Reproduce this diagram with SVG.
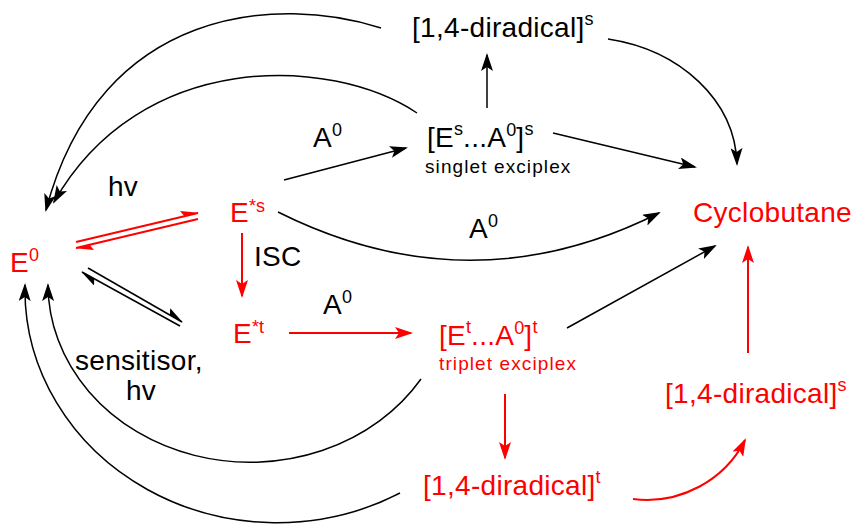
<svg xmlns="http://www.w3.org/2000/svg" width="862" height="525" viewBox="0 0 862 525">
<style>
text{font-family:"Liberation Sans",Arial,sans-serif;}
.big{font-size:28px;letter-spacing:0.3px;}
.sup{font-size:18px;letter-spacing:0;}
.small{font-size:19px;letter-spacing:1.1px;}
.k{fill:#000;}
.r{fill:#ff0000;}
.lk{fill:none;stroke:#000;stroke-width:1.5;}
.lr{fill:none;stroke:#ff0000;stroke-width:2;}
</style>
<defs>
<marker id="ak" viewBox="0 0 18 12" refX="16" refY="6" markerWidth="18" markerHeight="12" markerUnits="userSpaceOnUse" orient="auto"><path d="M0,0 L18,6 L0,12 L4,6 z" fill="#000"/></marker>
<marker id="ar" viewBox="0 0 18 12" refX="16" refY="6" markerWidth="18" markerHeight="12" markerUnits="userSpaceOnUse" orient="auto"><path d="M0,0 L18,6 L0,12 L4,6 z" fill="#ff0000"/></marker>
<marker id="hk" viewBox="0 0 18 12" refX="17" refY="6" markerWidth="18" markerHeight="12" markerUnits="userSpaceOnUse" orient="auto"><path d="M18,6 L0,0 L3,6 z" fill="#000"/></marker>
<marker id="hr" viewBox="0 0 18 12" refX="17" refY="6" markerWidth="18" markerHeight="12" markerUnits="userSpaceOnUse" orient="auto"><path d="M18,6 L0,0 L3,6 z" fill="#ff0000"/></marker>
</defs>

<g id="connectors">
<path class="lk" d="M381,28 C280,-5 100,5 46,210" marker-end="url(#ak)"/>
<path class="lk" d="M417,113 C330,55 140,50 54,202" marker-end="url(#ak)"/>
<path class="lk" d="M608,39 C680,50 735,100 737,164" marker-end="url(#ak)"/>
<path class="lk" d="M553,133 L695,167" marker-end="url(#ak)"/>
<path class="lk" d="M487,108 L487,55" marker-end="url(#ak)"/>
<path class="lk" d="M284,180 L406,148" marker-end="url(#ak)"/>
<path class="lk" d="M278,212 Q470,308 659,213" marker-end="url(#ak)"/>
<path class="lr" d="M76,242 L198,213" marker-end="url(#hr)"/>
<path class="lr" d="M198,219 L76,248" marker-end="url(#hr)"/>
<path class="lr" d="M242,233 L242,296" marker-end="url(#ar)"/>
<path class="lk" d="M88,268 L182,322" marker-end="url(#hk)"/>
<path class="lk" d="M180,326 L82,272" marker-end="url(#hk)"/>
<path class="lr" d="M289,333 L411,333" marker-end="url(#ar)"/>
<path class="lk" d="M567,328 L715,246" marker-end="url(#ak)"/>
<path class="lr" d="M505,394 L505,458" marker-end="url(#ar)"/>
<path class="lr" d="M748,353 L748,247" marker-end="url(#ar)"/>
<path class="lr" d="M633,499 C680,505 725,480 745,440" marker-end="url(#ar)"/>
<path class="lk" d="M421,379 A202,178 0 0 1 48,285" marker-end="url(#ak)"/>
<path class="lk" d="M400,493 A252,233 0 0 1 25,285" marker-end="url(#ak)"/>
<g id="edge-labels">
<text class="big k" x="313" y="147">A<tspan class="sup" dy="-11">0</tspan></text>
<text class="big k" x="108" y="196">hv</text>
<text class="big k" x="254" y="266">ISC</text>
<text class="big k" x="469" y="238">A<tspan class="sup" dy="-11">0</tspan></text>
<text class="big k" x="323" y="314">A<tspan class="sup" dy="-11">0</tspan></text>
<text class="big k" x="75" y="370">sensitisor,</text>
<text class="big k" x="126" y="400">hv</text>
</g>
</g>

<g id="n-diradical-s-top">
<text class="big k" x="412" y="37">[1,4-diradical]<tspan class="sup" dy="-12">s</tspan></text>
</g>
<g id="n-singlet-exciplex">
<text class="big k" x="427" y="147">[E<tspan class="sup" dy="-12">s</tspan><tspan dy="12">...A</tspan><tspan class="sup" dy="-11">0</tspan><tspan dy="11">]</tspan><tspan class="sup" dy="-12">s</tspan></text>
<text class="small k" x="425" y="173">singlet exciplex</text>
</g>
<g id="n-e0">
<text class="big r" x="10" y="272">E<tspan class="sup" dy="-11">0</tspan></text>
</g>
<g id="n-es">
<text class="big r" x="230" y="222">E<tspan class="sup" dy="-10">*s</tspan></text>
</g>
<g id="n-cyclobutane">
<text class="big r" x="693" y="222">Cyclobutane</text>
</g>
<g id="n-et">
<text class="big r" x="233" y="343">E<tspan class="sup" dy="-10">*t</tspan></text>
</g>
<g id="n-triplet-exciplex">
<text class="big r" x="439" y="345">[E<tspan class="sup" dy="-12">t</tspan><tspan dy="12">...A</tspan><tspan class="sup" dy="-11">0</tspan><tspan dy="11">]</tspan><tspan class="sup" dy="-12">t</tspan></text>
<text class="small r" x="439" y="370">triplet exciplex</text>
</g>
<g id="n-diradical-s-red">
<text class="big r" x="665" y="403">[1,4-diradical]<tspan class="sup" dy="-12">s</tspan></text>
</g>
<g id="n-diradical-t">
<text class="big r" x="423" y="495">[1,4-diradical]<tspan class="sup" dy="-12">t</tspan></text>
</g>
</svg>
